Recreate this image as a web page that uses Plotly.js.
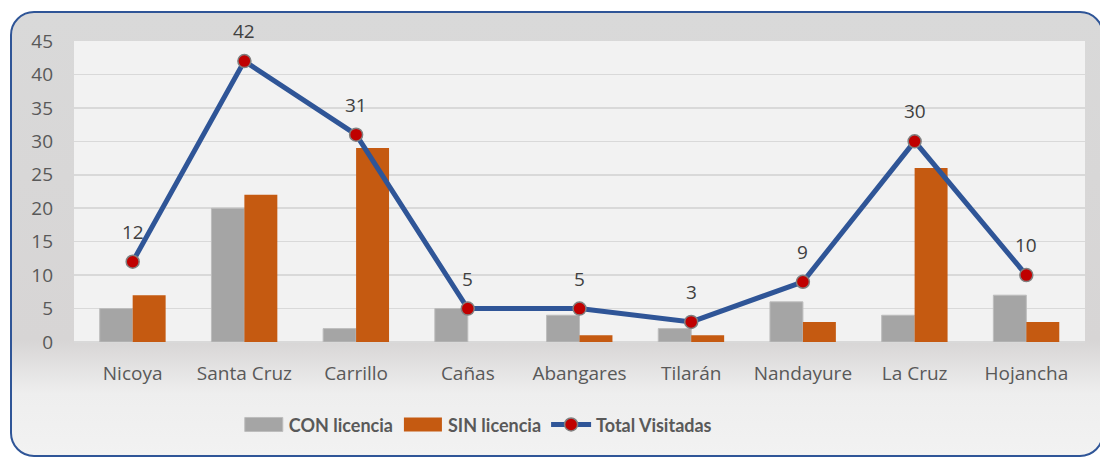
<!DOCTYPE html>
<html>
<head>
<meta charset="utf-8">
<script src="https://cdn.plot.ly/plotly-3.0.1.min.js"></script>
<style>
html,body{margin:0;padding:0;background:#ffffff;width:1100px;height:458px;overflow:hidden;}
#bg{position:absolute;left:10px;top:11px;width:1094px;height:446px;box-sizing:border-box;
border:2px solid #2F5597;border-radius:24px;
background:linear-gradient(to bottom,#d9d9d9 0%,#d7d5d5 74%,#eeeeee 86%,#f2f2f2 100%);}
#chart{position:absolute;left:0;top:0;width:1100px;height:458px;}
</style>
</head>
<body>
<div id="bg"></div>
<div id="chart"></div>
<script>
const categories = ["Nicoya","Santa Cruz","Carrillo","Cañas","Abangares","Tilarán","Nandayure","La Cruz","Hojancha"];
const conLicencia = [5,20,2,5,4,2,6,4,7];
const sinLicencia = [7,22,29,0,1,1,3,26,3];
const totalVisitadas = [12,42,31,5,5,3,9,30,10];
const yTicks = [0,5,10,15,20,25,30,35,40,45];

const traces = [
  {type:'bar', name:'CON licencia', x:categories, y:conLicencia,
   marker:{color:'#A5A5A5', line:{color:'#BDBDBD', width:1}}},
  {type:'bar', name:'SIN licencia', x:categories, y:sinLicencia,
   marker:{color:'#C55A11', line:{color:'#C55A11', width:0}}},
  {type:'scatter', mode:'lines+markers', name:'Total Visitadas', x:categories, y:totalVisitadas,
   line:{color:'#2F5597', width:5},
   marker:{color:'#C00000', size:13, line:{color:'#808080', width:1.5}}, cliponaxis:false}
];

const annotations = categories.map((c,i)=>({
  x:c, y:totalVisitadas[i], xref:'x', yref:'y', text:String(totalVisitadas[i]),
  showarrow:false, yshift:30, font:{family:'Open Sans, sans-serif', size:19, color:'#404040'}
}));

const layout = {
  width:1100, height:458,
  margin:{l:74, r:15, t:41, b:116},
  paper_bgcolor:'rgba(0,0,0,0)',
  plot_bgcolor:'#f2f2f2',
  barmode:'group', bargap:0.41, bargroupgap:0,
  font:{family:'Open Sans, sans-serif', size:19, color:'#595959'},
  xaxis:{tickfont:{size:19, color:'#595959'}, showgrid:false, showline:false, ticks:'',
         ticklabelstandoff:18, fixedrange:true},
  yaxis:{range:[0,45], tickvals:yTicks, ticktext:yTicks.map(String), showgrid:true, gridcolor:'#d9d9d9', gridwidth:1.5,
         zeroline:true, zerolinecolor:'#d9d9d9', zerolinewidth:1.5, showline:false, ticks:'',
         tickfont:{size:19, color:'#595959'}, ticklabelstandoff:20, fixedrange:true},
  annotations:annotations,
  showlegend:true,
  legend:{orientation:'h', x:0.163, xanchor:'left', y:-0.275, yanchor:'middle',
          font:{family:'Lato, sans-serif', size:18, color:'#595959', weight:'bold'},
          bgcolor:'rgba(0,0,0,0)', itemwidth:40, traceorder:'normal'}
};

Plotly.newPlot('chart', traces, layout, {displayModeBar:false, staticPlot:true}).then(function(gd){
  // widen bar legend swatches to match the reference
  gd.querySelectorAll('.legend .traces').forEach(function(tr){
    tr.querySelectorAll('.legendpoints .legendbar path, .legendpoints path.legendundefined').forEach(function(p){
      p.setAttribute('d','M19,7H-19V-7H19Z');
    });
  });
});
</script>
</body>
</html>
